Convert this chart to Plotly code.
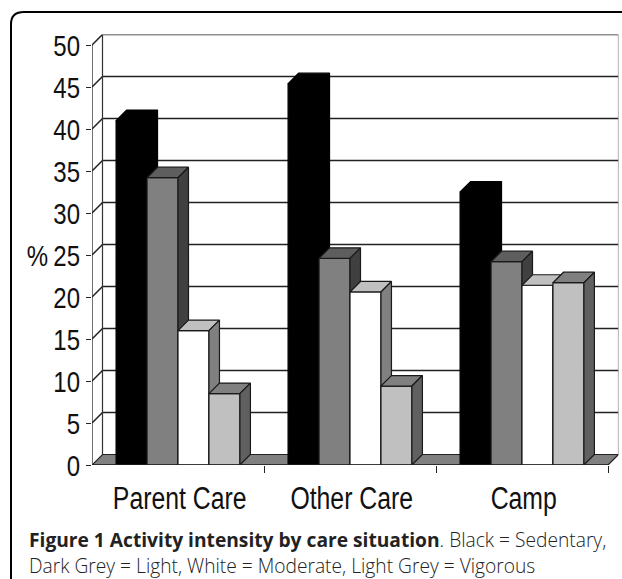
import plotly.graph_objects as go

categories = ["Parent Care", "Other Care", "Camp"]
sedentary = [41.0, 45.4, 32.5]
light = [34.2, 24.6, 24.2]
moderate = [16.0, 20.6, 21.4]
vigorous = [8.5, 9.4, 21.7]
y_ticks = [0, 5, 10, 15, 20, 25, 30, 35, 40, 45, 50]

W, H = 622, 579
X0, X1, Y0, Y1 = 92, 618.5, 465, 34.5
PX_CAT = 172.0
PX_VAL = 8.4
DX = 10.5 / PX_CAT
DY = 10.5 / PX_VAL
XMAX = len(categories) + DX
YMAX = 50 + DY
BAR_W = 0.18
START = (1 - 4 * BAR_W) / 2

series = [
    ("Sedentary", sedentary, "#000000", "#000000", "#000000", "#000000"),
    ("Light", light, "#808080", "#5e5e5e", "#404040", "#1a1a1a"),
    ("Moderate", moderate, "#ffffff", "#c0c0c0", "#808080", "#1a1a1a"),
    ("Vigorous", vigorous, "#c0c0c0", "#808080", "#606060", "#1a1a1a"),
]

fig = go.Figure()
LINE = "#222222"


def line(xs, ys, color=LINE, width=1.4, ax=""):
    fig.add_trace(go.Scatter(x=xs, y=ys, mode="lines", line=dict(color=color, width=width),
                             hoverinfo="skip", showlegend=False, cliponaxis=False,
                             xaxis="x" + ax, yaxis="y" + ax))


def poly(xs, ys, fill, ax="", edge=LINE):
    fig.add_trace(go.Scatter(x=xs, y=ys, mode="lines", fill="toself", fillcolor=fill,
                             line=dict(color=edge, width=1.2), hoverinfo="skip",
                             showlegend=False, cliponaxis=False,
                             xaxis="x" + ax, yaxis="y" + ax))


# floor
n = len(categories)
poly([0, DX, n + DX, n, 0], [0, DY, DY, 0, 0], "#808080")
# walls and gridlines
for v in y_ticks[1:]:
    line([0, DX, n + DX], [v, v + DY, v + DY], width=1.5)
line([DX, DX], [DY, YMAX], color="#333333", width=1.2)
line([n + DX, n + DX], [DY, YMAX], color="#808080", width=1.2)
line([0, 0], [0, 50], width=1.3)

# bars: each series on its own overlay so later fronts hide earlier sides
for k, (name, vals, front, top, side, edge) in enumerate(series):
    ax = str(k + 2)
    xs = [i + START + BAR_W * (k + 0.5) for i in range(n)]
    fig.add_trace(go.Bar(x=xs, y=vals, width=BAR_W, name=name, showlegend=False,
                         marker=dict(color=front, line=dict(color=edge, width=1.2)),
                         xaxis="x" + ax, yaxis="y" + ax, hoverinfo="y"))
    for xc, v in zip(xs, vals):
        l, r = xc - BAR_W / 2, xc + BAR_W / 2
        poly([l, l + DX, r + DX, r, l], [v, v + DY, v + DY, v, v], top, ax, edge)
        poly([r, r + DX, r + DX, r, r], [0, DY, v + DY, v, 0], side, ax, edge)

# front base line on top of everything
line([0, n], [0, 0], width=1.5, ax="5")

xd = [X0 / W, X1 / W]
yd = [1 - Y0 / H, 1 - Y1 / H]
FONT = "Liberation Sans, Arial, sans-serif"
layout = dict(
    width=W, height=H, autosize=False,
    margin=dict(l=0, r=0, t=0, b=0, pad=0, autoexpand=False),
    paper_bgcolor="white", plot_bgcolor="white",
    showlegend=False,
    xaxis=dict(domain=xd, range=[0, XMAX], tickmode="array", automargin=False,
               tickvals=[i + 0.51 for i in range(n)], ticktext=categories,
               ticks="", showgrid=False, zeroline=False, showline=False,
               tickfont=dict(family=FONT, size=31, color="#111111"),
               ticklabelstandoff=12,
               minor=dict(tickmode="array", tickvals=list(range(1, n + 1)), ticks="outside",
                          ticklen=7, tickwidth=1.2, tickcolor=LINE, showgrid=False)),
    yaxis=dict(domain=yd, range=[0, YMAX], tickmode="array", tickvals=y_ticks, automargin=False,
               ticks="outside", ticklen=5, tickwidth=1.2, tickcolor=LINE,
               showgrid=False, zeroline=False, showline=False,
               tickfont=dict(family=FONT, size=30, color="#111111")),
    shapes=[dict(type="path", xref="paper", yref="paper",
                 path=f"M {11/W} 0 L {11/W} {1-24/H} Q {11/W} {1-12/H} {24/W} {1-12/H} L 1 {1-12/H}",
                 line=dict(color="#000000", width=2))],
    annotations=[
        dict(text="%", xref="paper", yref="paper", x=37 / W, y=1 - 255 / H, showarrow=False,
             xanchor="center", yanchor="middle",
             font=dict(family=FONT, size=30, color="#111111")),
        dict(text="<b>Figure 1 Activity intensity by care situation</b>. Black = Sedentary,",
             xref="paper", yref="paper", x=27 / W, y=1 - 539 / H, xanchor="left", yanchor="middle",
             showarrow=False, font=dict(family="Open Sans", size=19.2, weight=300, color="#222222")),
        dict(text="Dark Grey = Light, White = Moderate, Light Grey = Vigorous",
             xref="paper", yref="paper", x=27 / W, y=1 - 565 / H, xanchor="left", yanchor="middle",
             showarrow=False, font=dict(family="Open Sans", size=19.2, weight=300, color="#222222")),
    ],
)
for i in range(2, 6):
    layout[f"xaxis{i}"] = dict(domain=xd, range=[0, XMAX], overlaying="x", visible=False)
    layout[f"yaxis{i}"] = dict(domain=yd, range=[0, YMAX], overlaying="y", visible=False)
fig.update_layout(**layout)

# The reference's axis lettering is a condensed sans; squeeze the glyphs to match.
squeeze = """
document.body.style.margin='0';
var targets=Array.from(document.querySelectorAll('.xtick text, .ytick text'));
document.querySelectorAll('.annotation-text').forEach(function(t){
  if(t.textContent==='%'){targets.push(t);}
});
targets.forEach(function(t){
  var w=t.getComputedTextLength();
  if(w>0){t.setAttribute('textLength', w*0.8); t.setAttribute('lengthAdjust','spacingAndGlyphs');}
});
"""
fig.write_html("out.html", post_script=squeeze, config=dict(displayModeBar=False))
